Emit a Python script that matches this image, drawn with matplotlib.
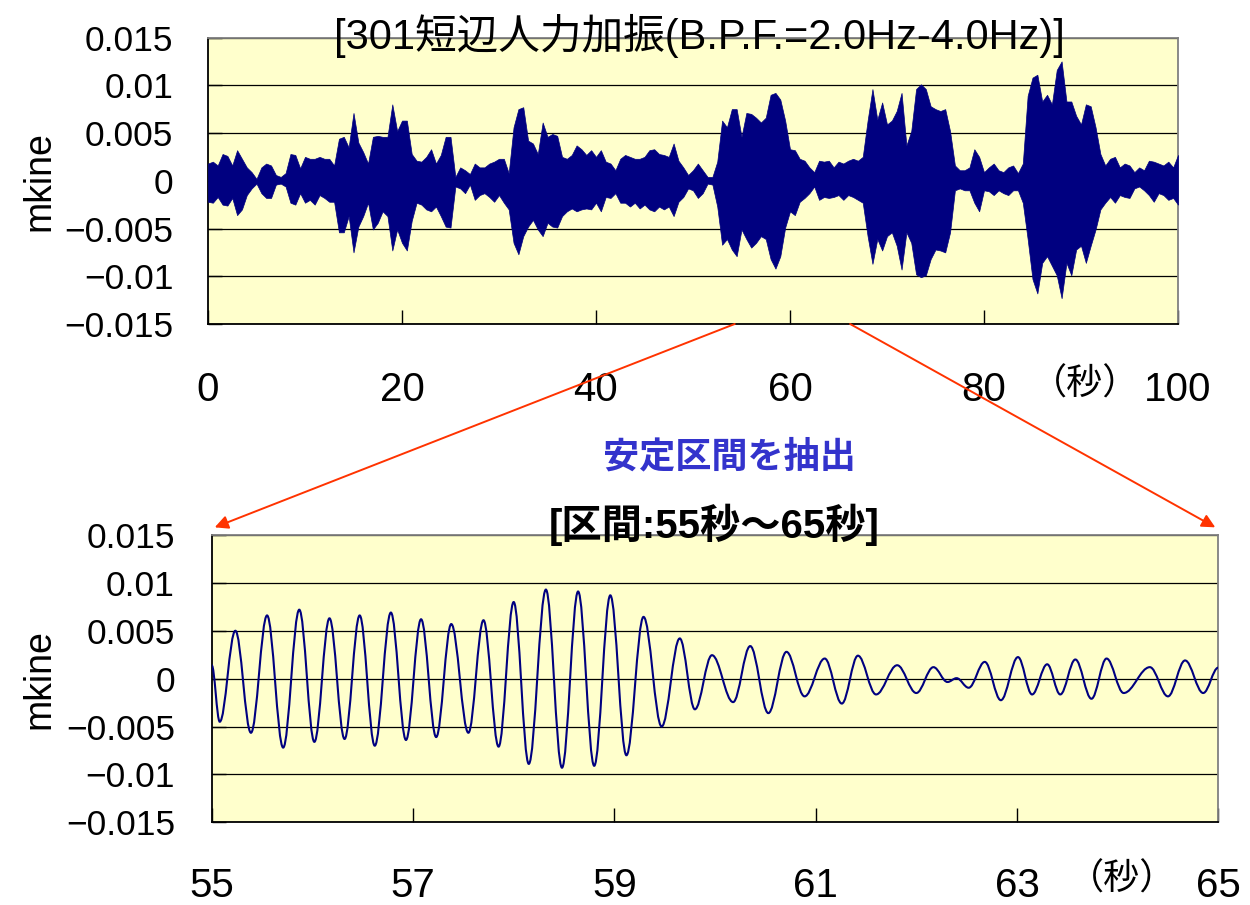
import numpy as np
import matplotlib
matplotlib.use("Agg")
import matplotlib.pyplot as plt
from matplotlib.path import Path
from matplotlib.patches import PathPatch, ConnectionPatch
from matplotlib import font_manager

_names = {f.name for f in font_manager.fontManager.ttflist}
SANS = "Liberation Sans" if "Liberation Sans" in _names else "DejaVu Sans"
NARROW = "Liberation Sans Narrow" if "Liberation Sans Narrow" in _names else SANS
CJK = "Noto Sans CJK JP"
plt.rcParams["font.family"] = [SANS, CJK]
plt.rcParams["axes.unicode_minus"] = True

# ---------------- data ----------------
title_top = "[301短辺人力加振(B.P.F.=2.0Hz-4.0Hz)]"
title_mid = "安定区間を抽出"
title_bottom = "[区間:55秒～65秒]"
unit_label = "（秒）"
y_label = "mkine"

y_ticks = [-0.015, -0.01, -0.005, 0.0, 0.005, 0.01, 0.015]
y_tick_labels = ["\u22120.015", "\u22120.01", "\u22120.005", "0", "0.005", "0.01", "0.015"]
top_x_ticks = [0, 20, 40, 60, 80, 100]
top_x_tick_labels = ["0", "20", "40", "60", "80", "100"]
bot_x_ticks = [55, 57, 59, 61, 63, 65]
bot_x_tick_labels = ["55", "57", "59", "61", "63", "65"]

# top record: envelope read every 0.5 s (units of 0.001 mkine)
top_time = np.linspace(0, 100, 201)
top_upper_milli = [
    1.8, 2.0, 1.6, 2.8, 2.6, 1.6, 3.2, 2.3, 1.4, 0.9,
    0.2, 1.4, 1.8, 1.6, 0.6, 0.4, 0.8, 2.8, 2.7, 1.3,
    2.5, 2.3, 2.3, 2.5, 2.3, 2.3, 1.6, 4.4, 4.6, 3.5,
    7.1, 4.0, 3.0, 1.8, 4.6, 4.7, 4.6, 4.6, 8.0, 5.2,
    6.3, 6.3, 2.8, 2.1, 2.0, 2.5, 3.3, 1.8, 2.7, 4.6,
    4.6, 0.4, 1.4, 1.1, 0.7, 1.8, 1.4, 1.4, 1.8, 2.0,
    2.3, 2.3, 0.8, 5.6, 7.5, 7.7, 4.2, 3.9, 2.8, 6.1,
    4.6, 4.9, 4.7, 2.5, 2.3, 2.7, 3.7, 3.3, 2.7, 3.2,
    2.5, 3.2, 2.0, 1.8, 1.1, 2.3, 2.7, 2.5, 2.3, 2.3,
    2.5, 3.2, 3.3, 2.8, 2.7, 2.5, 3.9, 2.1, 1.4, 0.6,
    1.1, 1.8, 1.1, 0.4, 0.4, 2.0, 6.3, 5.6, 7.5, 7.5,
    4.6, 7.1, 7.0, 6.6, 6.1, 6.6, 9.0, 9.2, 8.5, 6.3,
    3.3, 3.2, 2.3, 2.1, 1.4, 0.9, 2.1, 2.0, 2.1, 1.4,
    2.0, 1.8, 2.1, 2.3, 2.1, 2.5, 6.3, 9.6, 6.4, 8.2,
    5.9, 6.3, 7.3, 9.2, 3.7, 5.2, 9.6, 10.1, 9.6, 7.8,
    7.5, 7.3, 7.5, 5.2, 1.6, 1.1, 1.1, 1.4, 3.3, 2.5,
    0.9, 1.4, 1.8, 1.1, 0.9, 1.4, 1.6, 0.8, 1.8, 8.9,
    10.8, 11.1, 8.3, 9.0, 8.0, 11.6, 12.5, 8.3, 8.3, 6.8,
    5.9, 8.0, 7.8, 5.6, 2.8, 1.6, 2.3, 2.5, 1.4, 1.8,
    1.6, 0.9, 1.4, 1.1, 2.1, 2.0, 1.8, 1.6, 2.0, 1.4,
    2.7,
]
top_lower_milli = [
    -2.2, -2.3, -1.7, -2.5, -2.6, -1.8, -3.6, -3.0, -1.5, -0.8,
    -0.3, -1.3, -1.8, -1.8, -0.4, -0.3, -0.6, -2.3, -2.5, -1.3,
    -2.3, -2.0, -2.5, -1.5, -1.8, -2.2, -2.2, -5.4, -5.4, -3.7,
    -7.5, -4.8, -3.7, -2.3, -5.1, -4.4, -3.2, -3.7, -7.3, -5.1,
    -6.5, -7.3, -4.2, -2.3, -2.5, -3.0, -3.2, -2.7, -3.7, -4.8,
    -4.9, -0.6, -0.8, -1.3, -0.4, -2.0, -1.5, -1.3, -1.7, -2.2,
    -1.5, -2.3, -3.0, -6.5, -7.7, -5.8, -4.8, -4.1, -5.1, -5.8,
    -4.4, -4.8, -4.9, -3.7, -3.2, -2.9, -3.2, -3.0, -2.9, -3.0,
    -2.3, -3.2, -1.7, -1.8, -1.3, -2.3, -2.3, -2.7, -2.3, -2.9,
    -2.5, -3.0, -3.2, -2.7, -3.0, -2.7, -3.7, -2.2, -1.7, -0.8,
    -1.0, -1.8, -1.3, -0.3, -0.4, -2.7, -6.7, -6.1, -7.2, -7.9,
    -5.1, -6.1, -7.0, -6.5, -5.8, -6.1, -8.2, -9.2, -7.9, -4.9,
    -3.2, -3.6, -2.2, -1.8, -1.3, -0.6, -2.0, -1.7, -1.8, -1.7,
    -1.5, -2.0, -1.5, -1.7, -2.0, -2.3, -5.8, -8.7, -6.1, -7.3,
    -5.8, -5.4, -6.8, -9.3, -5.4, -6.5, -9.8, -10.1, -9.9, -8.2,
    -7.2, -7.3, -7.5, -5.4, -1.0, -0.8, -1.0, -1.0, -2.3, -3.2,
    -1.0, -1.1, -1.5, -1.0, -1.3, -1.5, -1.0, -1.0, -2.3, -6.1,
    -10.3, -11.8, -8.6, -7.9, -8.9, -9.9, -12.3, -8.6, -9.9, -7.2,
    -6.8, -8.6, -6.8, -5.1, -3.0, -2.3, -1.7, -2.3, -1.5, -1.7,
    -1.8, -0.8, -0.6, -1.0, -1.5, -2.2, -1.3, -1.5, -2.0, -1.8,
    -2.5,
]

# bottom record 55-65 s: successive peaks and troughs (time s, value 0.001 mkine)
bot_time = [
    55.00, 55.08, 55.235, 55.39, 55.55, 55.71, 55.87, 56.02, 56.17, 56.32,
    56.47, 56.62, 56.78, 56.93, 57.08, 57.23, 57.38, 57.55, 57.70, 57.85,
    58.00, 58.15, 58.32, 58.48, 58.64, 58.80, 58.96, 59.12, 59.29, 59.47,
    59.65, 59.80, 59.97, 60.18, 60.35, 60.53, 60.71, 60.89, 61.09, 61.26,
    61.42, 61.60, 61.81, 62.00, 62.17, 62.31, 62.40, 62.52, 62.68, 62.84,
    63.01, 63.15, 63.30, 63.43, 63.58, 63.74, 63.89, 64.06, 64.32, 64.50,
    64.67, 64.85, 65.00,
]
bot_value_milli = [
    1.4, -4.5, 5.0, -5.65, 6.6, -7.2, 7.2, -6.6, 6.3, -6.3,
    6.6, -7.0, 6.9, -6.4, 6.2, -6.1, 5.7, -5.65, 6.1, -7.1,
    8.0, -8.9, 9.3, -9.3, 9.1, -9.1, 8.7, -8.0, 6.45, -5.0,
    4.2, -3.2, 2.45, -2.45, 3.4, -3.6, 2.8, -1.85, 2.1, -2.6,
    2.4, -1.65, 1.4, -1.5, 1.2, -0.35, 0.05, -0.95, 1.75, -2.25,
    2.25, -1.65, 1.5, -1.65, 2.0, -2.1, 2.1, -1.5, 1.2, -1.85,
    1.9, -1.5, 1.15,
]

# ---------------- styles ----------------
NAVY = "#000080"
BG = "#FFFFCC"
ARROW = "#FF3300"
BLUE_TXT = "#3333CC"

fig = plt.figure(figsize=(12.5, 9.05), dpi=100)
fig.patch.set_facecolor("white")

ax1 = fig.add_axes([208 / 1250, 1 - 324 / 905, 970 / 1250, 286.5 / 905])
ax2 = fig.add_axes([211.7 / 1250, 1 - 822.3 / 905, 1006.6 / 1250, 287.3 / 905])


def style_axes(ax, xticks, xlabels, xpad, ypad):
    ax.set_facecolor(BG)
    ax.set_ylim(-0.015, 0.015)
    ax.set_yticks(y_ticks)
    ax.set_yticklabels(y_tick_labels, fontfamily=[SANS, CJK], fontsize=25.5)
    ax.set_xticks(xticks)
    ax.set_xticklabels(xlabels, fontfamily=[NARROW, CJK], fontsize=29)
    ax.tick_params(axis="both", direction="in", length=10, width=1, color="black")
    ax.tick_params(axis="x", pad=xpad)
    ax.tick_params(axis="y", pad=ypad)
    ax.grid(axis="y", color="black", lw=0.9)
    ax.set_axisbelow(True)
    for s in ("left", "bottom"):
        ax.spines[s].set_color("black")
        ax.spines[s].set_linewidth(1.3)
    for s in ("top", "right"):
        ax.spines[s].set_color("#808080")
        ax.spines[s].set_linewidth(1.3)
    ax.set_ylabel(y_label, fontfamily=[SANS, CJK], fontsize=27)


# ---- top panel ----
ax1.set_xlim(0, 100)
up = np.array(top_upper_milli) * 1e-3
lo = np.array(top_lower_milli) * 1e-3
ax1.fill_between(top_time, lo, up, facecolor=NAVY, edgecolor=NAVY, lw=0.5, zorder=3)
style_axes(ax1, top_x_ticks, top_x_tick_labels, 34, 25)

# ---- bottom panel ----
ax2.set_xlim(55, 65)
k = 0.3642
bt = list(bot_time)
bv = [v * 1e-3 for v in bot_value_milli]
verts = [(bt[0], bv[0])]
codes = [Path.MOVETO]
for i in range(len(bt) - 1):
    d = bt[i + 1] - bt[i]
    verts += [(bt[i] + k * d, bv[i]), (bt[i + 1] - k * d, bv[i + 1]), (bt[i + 1], bv[i + 1])]
    codes += [Path.CURVE4] * 3
ax2.add_patch(PathPatch(Path(verts, codes), facecolor="none", edgecolor=NAVY, lw=1.5, zorder=3))
style_axes(ax2, bot_x_ticks, bot_x_tick_labels, 32, 26.5)

# y-label positions (pixel-matched, coordinate = right side of rotated text)
ax1.yaxis.set_label_coords((57 - 208) / 970, 0.5)
ax2.yaxis.set_label_coords((57 - 211.7) / 1006.6, 0.5)

# unit labels
fig.text(1085 / 1250, 1 - 385 / 905, unit_label, ha="center", va="center",
         fontfamily=[CJK], fontsize=26)
fig.text(1122 / 1250, 1 - 880 / 905, unit_label, ha="center", va="center",
         fontfamily=[CJK], fontsize=26)

# titles
fig.text(699 / 1250, 1 - 36 / 905, title_top, ha="center", va="center",
         fontfamily=[SANS, CJK], fontsize=30, zorder=10)
fig.text(729 / 1250, 1 - 457 / 905, title_mid, ha="center", va="center",
         fontfamily=[CJK], fontsize=26, fontweight="bold", color=BLUE_TXT)
fig.text(714 / 1250, 1 - 525 / 905, title_bottom, ha="center", va="center",
         fontfamily=[SANS, CJK], fontsize=29, fontweight="bold", zorder=10)

# arrows linking the extracted window
for xa, xb in ((54.3, 55.03), (66.2, 64.97)):
    con = ConnectionPatch(xyA=(xa, -0.015), coordsA=ax1.transData,
                          xyB=(xb, 0.0158), coordsB=ax2.transData,
                          arrowstyle="-|>", color=ARROW, lw=1.4, mutation_scale=20)
    fig.add_artist(con)

fig.savefig("out.png", dpi=100)
